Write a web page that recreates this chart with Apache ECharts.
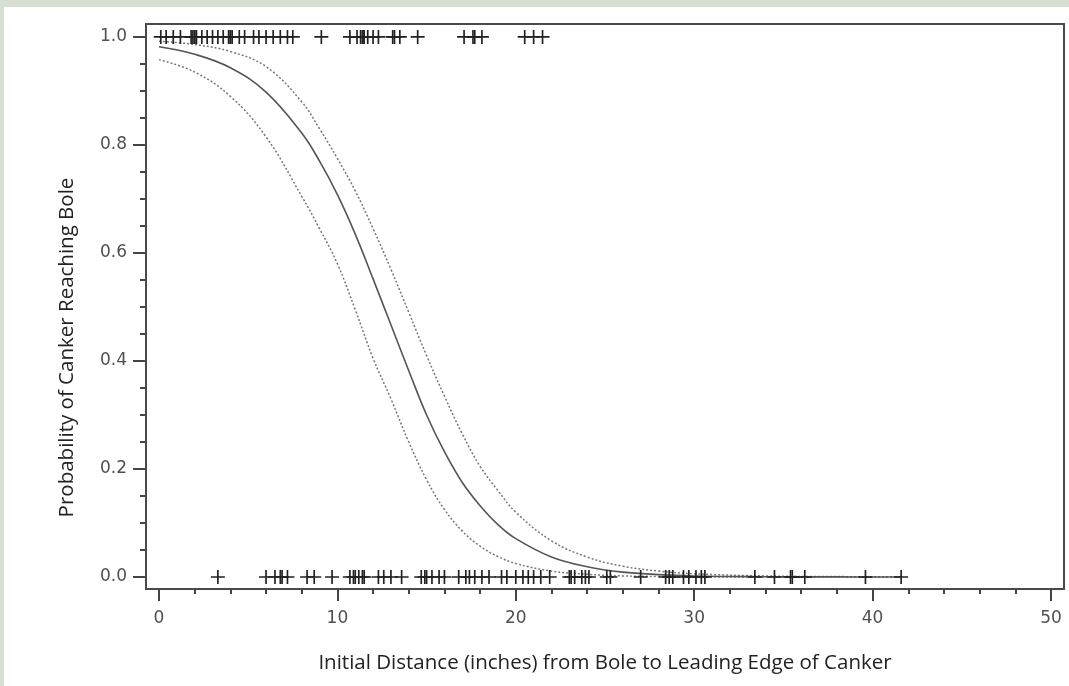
<!DOCTYPE html>
<html><head><meta charset="utf-8">
<script src="https://cdn.jsdelivr.net/npm/echarts@6/dist/echarts.min.js"></script>
<style>
html,body{margin:0;padding:0;background:#d6dfd1;width:1069px;height:686px;overflow:hidden;}
#bg{position:absolute;left:4px;top:7px;width:1065px;height:679px;background:#fff;}
#chart{position:absolute;left:0;top:0;width:1069px;height:686px;}
</style></head><body>
<div id="bg"></div><div id="chart"></div>
<script>
// tick positions
const xMajorTicks = [0, 10, 20, 30, 40, 50];
const xMinorTicks = [2, 4, 6, 8, 12, 14, 16, 18, 22, 24, 26, 28, 32, 34, 36, 38, 42, 44, 46, 48];
const yMajorTicks = [0, 0.2, 0.4, 0.6, 0.8, 1.0];
const yMinorTicks = [0.05, 0.1, 0.15, 0.25, 0.3, 0.35, 0.45, 0.5, 0.55, 0.65, 0.7, 0.75, 0.85, 0.9, 0.95];

// observations: canker reached bole (y = 1)
const reachedX = [0.1, 0.4, 0.8, 1.2, 1.8, 1.9, 2.0, 2.0, 2.1, 2.4, 2.7, 3.0, 3.3, 3.6, 3.9, 4.0, 4.0, 4.1,
  4.5, 4.8, 5.3, 5.6, 6.0, 6.4, 6.8, 7.2, 7.5, 9.1, 10.7, 11.1, 11.3, 11.4, 11.5, 11.5, 11.7, 12.0, 12.3,
  13.1, 13.2, 13.5, 14.5, 17.1, 17.6, 17.7, 18.1, 20.5, 21.0, 21.5];
// observations: canker did not reach bole (y = 0)
const notReachedX = [3.3, 6.0, 6.5, 6.8, 6.9, 7.2, 8.3, 8.7, 9.7, 10.7, 10.9, 11.0, 11.2, 11.4, 11.5, 12.3,
  12.6, 13.0, 13.6, 14.7, 14.9, 15.0, 15.3, 15.7, 16.0, 16.8, 17.2, 17.4, 17.7, 18.1, 18.5, 19.2, 19.5, 20.0,
  20.4, 20.7, 21.0, 21.4, 21.9, 23.0, 23.1, 23.3, 23.7, 23.9, 24.1, 25.1, 25.3, 27.0, 28.4, 28.6, 28.8, 29.4,
  29.7, 30.1, 30.4, 30.6, 33.4, 34.5, 35.4, 35.5, 36.2, 39.6, 41.6];

// fitted curve and confidence limits
const curveX    = [0, 2, 4, 6, 8, 9, 10, 11, 12, 13, 14, 15, 16, 17, 18, 19, 20, 22, 24, 26, 28, 30, 34, 38, 41.6];
const predicted = [0.982, 0.968, 0.943, 0.898, 0.822, 0.77, 0.708, 0.635, 0.552, 0.467, 0.382, 0.3, 0.232, 0.175, 0.132, 0.097, 0.071, 0.037, 0.019, 0.009, 0.0045, 0.002, 0.0006, 0.0002, 0.0001];
const upperCL   = [0.992, 0.986, 0.973, 0.945, 0.88, 0.83, 0.775, 0.715, 0.645, 0.57, 0.49, 0.41, 0.335, 0.265, 0.205, 0.16, 0.12, 0.067, 0.037, 0.02, 0.011, 0.006, 0.002, 0.0008, 0.0004];
const lowerCL   = [0.958, 0.935, 0.89, 0.815, 0.705, 0.645, 0.58, 0.495, 0.405, 0.33, 0.25, 0.18, 0.125, 0.085, 0.057, 0.038, 0.025, 0.011, 0.005, 0.002, 0.001, 0.0004, 0.0001, 0, 0];

const xTitle = 'Initial Distance (inches) from Bole to Leading Edge of Canker';
const yTitle = 'Probability of Canker Reaching Bole';

const zip = (xs, ys) => xs.map((x, i) => [x, ys[i]]);
const plus = 'path://M0,4.4H10V5.6H0Z M4.4,0H5.6V10H4.4Z';
const tickFont = { fontFamily: 'DejaVu Sans', fontSize: 17, color: '#505050' };
const titleFont = { fontFamily: 'Open Sans', fontSize: 20.5, color: '#222' };

const XMIN = -0.729, XMAX = 50.73, YMIN = -0.0222, YMAX = 1.024;

const chart = echarts.init(document.getElementById('chart'), null, { renderer: 'canvas' });
chart.setOption({
  animation: false,
  grid: { left: 146, top: 24, right: 5, bottom: 97, show: true, borderColor: '#4a4a4a', borderWidth: 2, backgroundColor: 'transparent' },
  xAxis: [
    { type: 'value', min: XMIN, max: XMAX, position: 'bottom',
      axisLine: { show: false, onZero: false }, splitLine: { show: false },
      axisTick: { show: true, inside: false, length: 12, lineStyle: { color: '#444', width: 2 }, customValues: xMajorTicks },
      axisLabel: { show: true, inside: false, margin: 21, customValues: xMajorTicks, formatter: v => String(v), ...tickFont },
      name: xTitle, nameLocation: 'middle', nameGap: 64, nameTextStyle: titleFont },
    { type: 'value', min: XMIN, max: XMAX, position: 'bottom',
      axisLine: { show: false, onZero: false }, splitLine: { show: false },
      axisTick: { show: true, inside: false, length: 5, lineStyle: { color: '#444', width: 2 }, customValues: xMinorTicks },
      axisLabel: { show: false } }
  ],
  yAxis: [
    { type: 'value', min: YMIN, max: YMAX, position: 'left',
      axisLine: { show: false, onZero: false }, splitLine: { show: false },
      axisTick: { show: true, inside: false, length: 13, lineStyle: { color: '#444', width: 2 }, customValues: yMajorTicks },
      axisLabel: { show: true, inside: false, margin: 19, customValues: yMajorTicks, formatter: v => v.toFixed(1), ...tickFont },
      name: yTitle, nameLocation: 'middle', nameGap: 68,
      nameTextStyle: { ...titleFont, padding: [0, 82, 0, 0] } },
    { type: 'value', min: YMIN, max: YMAX, position: 'left',
      axisLine: { show: false, onZero: false }, splitLine: { show: false },
      axisTick: { show: true, inside: false, length: 6, lineStyle: { color: '#444', width: 2 }, customValues: yMinorTicks },
      axisLabel: { show: false } }
  ],
  series: [
    { type: 'line', data: zip(curveX, upperCL), smooth: 0.4, symbol: 'none',
      lineStyle: { color: '#777', width: 1.5, type: [2, 2] }, z: 2 },
    { type: 'line', data: zip(curveX, lowerCL), smooth: 0.4, symbol: 'none',
      lineStyle: { color: '#777', width: 1.5, type: [2, 2] }, z: 2 },
    { type: 'line', data: zip(curveX, predicted), smooth: 0.4, symbol: 'none',
      lineStyle: { color: '#555', width: 1.6 }, z: 3 },
    { type: 'scatter', data: reachedX.map(x => [x, 1]), symbol: plus, symbolSize: 14,
      itemStyle: { color: '#222', opacity: 1 }, z: 4 },
    { type: 'scatter', data: notReachedX.map(x => [x, 0]), symbol: plus, symbolSize: 14,
      itemStyle: { color: '#222', opacity: 1 }, z: 4 }
  ]
});
</script>
</body></html>
